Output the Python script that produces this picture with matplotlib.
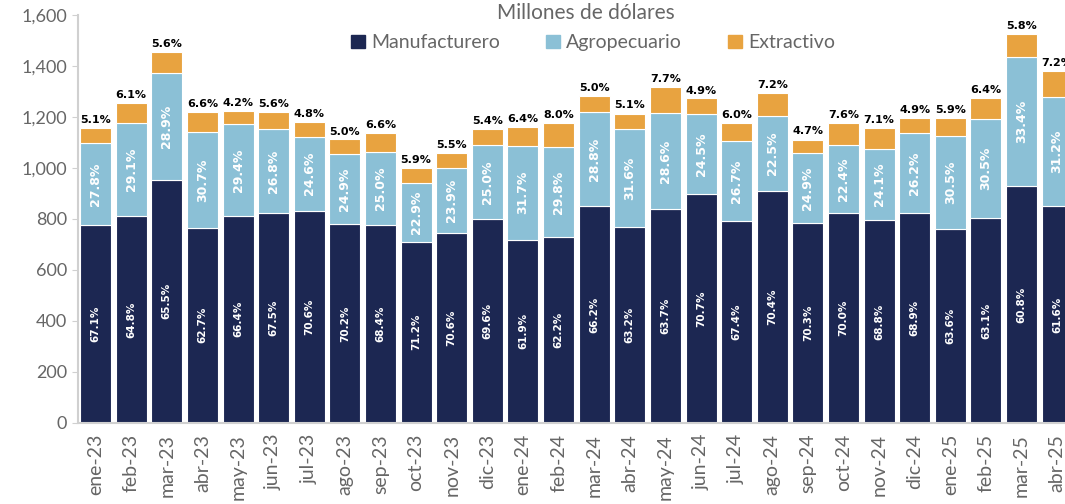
import numpy as np
import matplotlib.pyplot as plt
from matplotlib.patches import Patch

# Meses (ene-23 .. abr-25)
months = ['ene-23', 'feb-23', 'mar-23', 'abr-23', 'may-23', 'jun-23', 'jul-23',
          'ago-23', 'sep-23', 'oct-23', 'nov-23', 'dic-23', 'ene-24', 'feb-24',
          'mar-24', 'abr-24', 'may-24', 'jun-24', 'jul-24', 'ago-24', 'sep-24',
          'oct-24', 'nov-24', 'dic-24', 'ene-25', 'feb-25', 'mar-25', 'abr-25']

# Total exportado (millones de dolares)
total = [1156, 1254, 1456, 1221, 1224, 1221, 1179, 1111, 1136, 999, 1058, 1152,
         1162, 1175, 1284, 1215, 1317, 1272, 1175, 1295, 1113, 1178, 1157, 1195,
         1196, 1273, 1526, 1379]

# Participacion de cada sector (%)
pct_manuf = [67.1, 64.8, 65.5, 62.7, 66.4, 67.5, 70.6, 70.2, 68.4, 71.2, 70.6, 69.6,
             61.9, 62.2, 66.2, 63.2, 63.7, 70.7, 67.4, 70.4, 70.3, 70.0, 68.8, 68.9,
             63.6, 63.1, 60.8, 61.6]
pct_agro = [27.8, 29.1, 28.9, 30.7, 29.4, 26.8, 24.6, 24.9, 25.0, 22.9, 23.9, 25.0,
            31.7, 29.8, 28.8, 31.6, 28.6, 24.5, 26.7, 22.5, 24.9, 22.4, 24.1, 26.2,
            30.5, 30.5, 33.4, 31.2]
pct_extr = [5.1, 6.1, 5.6, 6.6, 4.2, 5.6, 4.8, 5.0, 6.6, 5.9, 5.5, 5.4,
            6.4, 8.0, 5.0, 5.1, 7.7, 4.9, 6.0, 7.2, 4.7, 7.6, 7.1, 4.9,
            5.9, 6.4, 5.8, 7.2]

c_manuf = '#1c2752'
c_agro = '#8bc0d6'
c_extr = '#e8a340'
gray = '#666666'

plt.rcParams['font.family'] = ['Lato', 'DejaVu Sans']

tot = np.array(total, dtype=float)
manuf = tot * np.array(pct_manuf) / 100
agro = tot * np.array(pct_agro) / 100
extr = tot * np.array(pct_extr) / 100
x = np.arange(len(months))

fig = plt.figure(figsize=(10.65, 5.04), dpi=100)
ax = fig.add_axes([0.073, 0.161, 0.927, 0.809])

w = 0.87
ax.bar(x, manuf, w, color=c_manuf, edgecolor='white', linewidth=0.8)
ax.bar(x, agro, w, bottom=manuf, color=c_agro, edgecolor='white', linewidth=0.8)
ax.bar(x, extr, w, bottom=manuf + agro, color=c_extr, edgecolor='white', linewidth=0.8)

for i in x:
    ax.text(i, manuf[i] / 2, f'{pct_manuf[i]:.1f}%', rotation=90, ha='center',
            va='center', color='white', fontsize=7.5, fontweight='bold',
            family='DejaVu Sans')
    ax.text(i, manuf[i] + agro[i] / 2, f'{pct_agro[i]:.1f}%', rotation=90,
            ha='center', va='center', color='white', fontsize=9,
            fontweight='bold', family='DejaVu Sans')
    ax.text(i, tot[i] + 12, f'{pct_extr[i]:.1f}%', ha='center', va='bottom',
            color='black', fontsize=8, fontweight='bold', family='DejaVu Sans')

ax.set_xlim(-0.5, 27.22)
ax.set_ylim(0, 1600)
ax.set_yticks(np.arange(0, 1601, 200))
ax.yaxis.set_major_formatter(plt.FuncFormatter(lambda v, p: f'{int(v):,}'))
ax.set_xticks(x)
ax.set_xticklabels(months, rotation=90)
ax.tick_params(axis='y', colors='#d0d0d0', labelcolor=gray, labelsize=13,
               length=4)
ax.tick_params(axis='x', length=0, labelcolor=gray, labelsize=14, pad=8)
for s in ['top', 'right']:
    ax.spines[s].set_visible(False)
ax.spines['left'].set_color('#d0d0d0')
ax.spines['bottom'].set_color('#d0d0d0')
ax.spines['left'].set_linewidth(1.5)
ax.spines['bottom'].set_linewidth(1.5)

fig.text(0.55, 0.975, 'Millones de dólares', ha='center', va='center',
         fontsize=15, color=gray)
handles = [Patch(color=c_manuf, label='Manufacturero'),
           Patch(color=c_agro, label='Agropecuario'),
           Patch(color=c_extr, label='Extractivo')]
fig.legend(handles=handles, loc='center', bbox_to_anchor=(0.557, 0.915), ncol=3,
           frameon=False, fontsize=14, labelcolor=gray, handlelength=0.7,
           handleheight=0.7, handletextpad=0.3, columnspacing=2.4)

fig.savefig('out.png', dpi=100)
